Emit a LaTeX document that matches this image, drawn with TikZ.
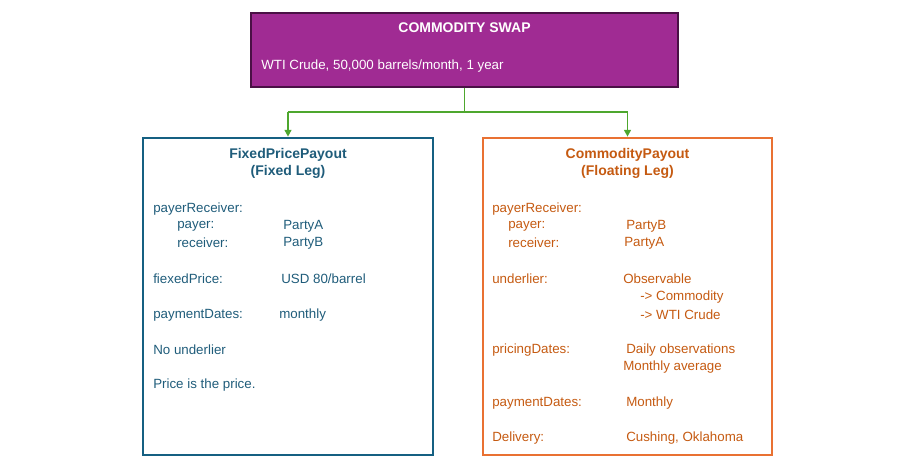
\documentclass[tikz,border=0pt]{standalone}
\usepackage{fontspec}
\setmainfont{Liberation Sans}
\usetikzlibrary{arrows.meta}
\definecolor{purp}{HTML}{A02B93}
\definecolor{purpd}{HTML}{4A1045}
\definecolor{bl}{HTML}{1F5C7A}
\definecolor{blb}{HTML}{156082}
\definecolor{org}{HTML}{C55A11}
\definecolor{orgb}{HTML}{E97132}
\definecolor{grn}{HTML}{4EA72E}
\begin{document}
\begin{tikzpicture}[x=0.75pt,y=-0.75pt,
  t/.style={anchor=west,inner sep=0pt,font=\fontsize{10}{12}\selectfont},
  tb/.style={t,text=bl},
  to/.style={t,text=org},
  ttl/.style={anchor=center,inner sep=0pt,font=\bfseries\fontsize{10.5}{12.5}\selectfont,align=center},
  conn/.style={grn,line width=1.3pt,-{Triangle[length=5pt,width=5pt]}}]
\useasboundingbox (0,0) rectangle (913,463);
\node[draw=purpd,fill=purp,line width=1pt,minimum width=427*0.75pt,minimum height=74*0.75pt,inner sep=0pt] (top) at (464.5,50) {};
\node[ttl,text=white] (tt) at (464.5,28) {COMMODITY SWAP};
\node[t,text=white] (tw) at (261,66) {WTI Crude, 50,000 barrels/month, 1 year};
\node[draw=blb,line width=2pt,minimum width=290*0.75pt,minimum height=317*0.75pt,inner sep=0pt] (L) at (288,296.5) {};
\node[draw=orgb,line width=2pt,minimum width=289*0.75pt,minimum height=317*0.75pt,inner sep=0pt] (R) at (627.5,296.5) {};
\coordinate (j) at (464.5,112);
\coordinate (jl) at (288,112);
\coordinate (jr) at (627.5,112);
\draw[grn,line width=1.3pt] (top.south) -- (j);
\draw[grn,line width=1.3pt] (jl) -- (jr);
\draw[conn] (jl) -- (L.north);
\draw[conn] (jr) -- (R.north);
% left
\node[ttl,text=bl] (lt) at (288,163.5) {FixedPricePayout\\(Fixed Leg)};
\node[tb] (l1) at (153,209) {payerReceiver:};
\node[tb] (l2) at (177,226) {payer:};
\node[tb] (l2v) at (283,226) {PartyA};
\node[tb] (l3) at (177,243) {receiver:};
\node[tb] (l3v) at (283,243) {PartyB};
\node[tb] (l4) at (153,279) {fiexedPrice:};
\node[tb] (l4v) at (281,279) {USD 80/barrel};
\node[tb] (l5) at (153,315) {paymentDates:};
\node[tb] (l5v) at (279,315) {monthly};
\node[tb] (l6) at (153,350) {No underlier};
\node[tb] (l7) at (153,385) {Price is the price.};
% right
\node[ttl,text=org] (rt) at (627.5,163.5) {CommodityPayout\\(Floating Leg)};
\node[to] (r1) at (492,209) {payerReceiver:};
\node[to] (r2) at (508,226) {payer:};
\node[to] (r2v) at (626,226) {PartyB};
\node[to] (r3) at (508,243) {receiver:};
\node[to] (r3v) at (624,243) {PartyA};
\node[to] (r4) at (492,279) {underlier:};
\node[to] (r4v) at (623,279) {Observable};
\node[to] (r4a) at (640,297) {-> Commodity};
\node[to] (r4b) at (640,315) {-> WTI Crude};
\node[to] (r5) at (492,350) {pricingDates:};
\node[to] (r5v) at (626,350) {Daily observations};
\node[to] (r5w) at (623,367) {Monthly average};
\node[to] (r6) at (492,403) {paymentDates:};
\node[to] (r6v) at (626,403) {Monthly};
\node[to] (r7) at (492,438) {Delivery:};
\node[to] (r7v) at (626,438) {Cushing, Oklahoma};
\end{tikzpicture}
\end{document}
